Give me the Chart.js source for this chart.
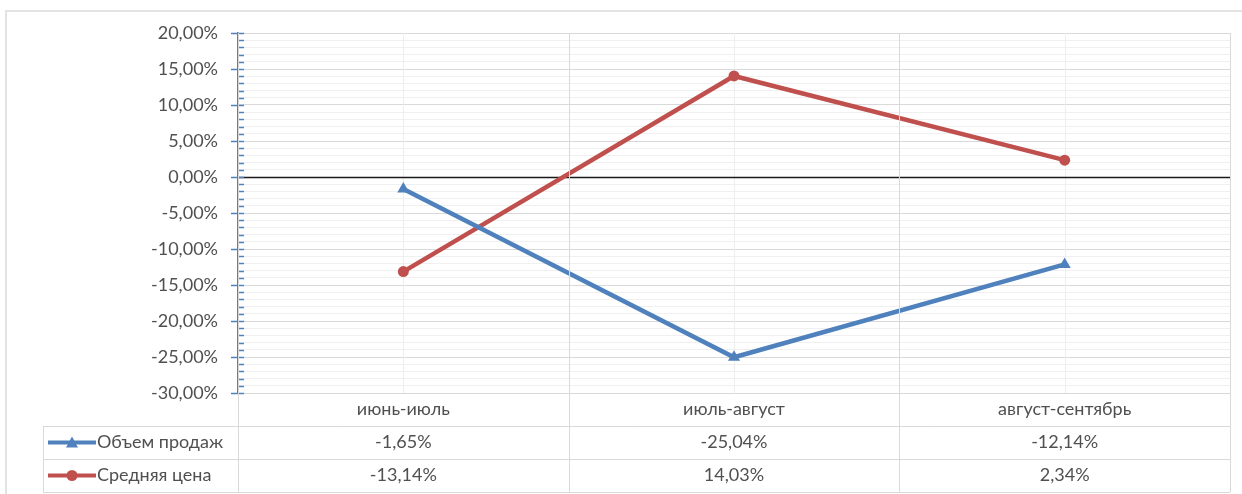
<!DOCTYPE html>
<html lang="ru">
  <head>
    <meta charset="UTF-8" />
    <title>Объем продаж и средняя цена</title>
    <script src="https://cdn.jsdelivr.net/npm/chart.js@4"></script>
    <style>
      body {
        margin: 0;
        background: #ffffff;
      }
    </style>
  </head>
  <body>
    <canvas id="chart" width="1242" height="494"></canvas>

    <script>
      // данные из таблицы под графиком
      const categories = ["июнь-июль", "июль-август", "август-сентябрь"];
      const salesVolume = [-1.65, -25.04, -12.14];
      const avgPrice = [-13.14, 14.03, 2.34];
      const seriesNames = ["Объем продаж", "Средняя цена"];

      const BLUE = "#4f81bd";
      const RED = "#c0504d";
      const TEXT = "#505050";
      const LINE = "#d9d9d9";
      const FONT = "Lato, 'Noto Sans', sans-serif";
      const FONT_SIZE = 18;

      const fmt = (v) => v.toFixed(2).replace(".", ",") + "%";

      // таблица данных и рамка, как в Excel
      const dataTable = {
        id: "dataTable",
        beforeDatasetsDraw(chart) {
          const { ctx, chartArea, scales } = chart;
          ctx.save();
          ctx.strokeStyle = "#eeeeee";
          ctx.lineWidth = 1;
          categories.forEach((c, i) => {
            const x = Math.round(scales.x.getPixelForValue(i)) + 0.5;
            ctx.beginPath();
            ctx.moveTo(x, chartArea.top);
            ctx.lineTo(x, chartArea.bottom);
            ctx.stroke();
          });
          // ноль
          const y0 = Math.round(scales.y.getPixelForValue(0)) + 0.5;
          ctx.strokeStyle = "#1a1a1a";
          ctx.lineWidth = 1.7;
          ctx.beginPath();
          ctx.moveTo(chartArea.left, y0);
          ctx.lineTo(chartArea.right, y0);
          ctx.stroke();
          ctx.restore();
        },
        afterDraw(chart) {
          const { ctx, chartArea, scales } = chart;
          const left = chartArea.left;
          const right = chartArea.right;
          const top = chartArea.bottom;
          const rowH = 33;
          const tableLeft = 43;
          const series = [
            { name: seriesNames[0], data: salesVolume, color: BLUE, marker: "triangle" },
            { name: seriesNames[1], data: avgPrice, color: RED, marker: "circle" },
          ];

          ctx.save();

          // внешняя рамка
          ctx.strokeStyle = "#e3e3e3";
          ctx.lineWidth = 2;
          ctx.beginPath();
          ctx.moveTo(6, 494);
          ctx.lineTo(6, 11);
          ctx.lineTo(1242, 11);
          ctx.stroke();

          // деления на оси Y
          ctx.strokeStyle = BLUE;
          ctx.lineWidth = 1.5;
          for (let v = -30; v <= 20; v++) {
            const y = Math.round(scales.y.getPixelForValue(v)) + 0.5;
            const major = v % 5 === 0;
            ctx.beginPath();
            ctx.moveTo(major ? left - 7 : left, y);
            ctx.lineTo(left + 6, y);
            ctx.stroke();
          }

          // линии таблицы
          ctx.strokeStyle = LINE;
          ctx.lineWidth = 1;
          const bounds = [left];
          categories.forEach((c, i) => {
            bounds.push(i < categories.length - 1
              ? (scales.x.getPixelForValue(i) + scales.x.getPixelForValue(i + 1)) / 2
              : right);
          });
          bounds.forEach((bx) => {
            const x = Math.round(bx) + 0.5;
            ctx.beginPath();
            ctx.moveTo(x, chartArea.top);
            ctx.lineTo(x, top + rowH * 3);
            ctx.stroke();
          });
          for (let r = 1; r <= 3; r++) {
            const y = Math.round(top + rowH * r) + 0.5;
            ctx.beginPath();
            ctx.moveTo(tableLeft, y);
            ctx.lineTo(right, y);
            ctx.stroke();
          }
          ctx.beginPath();
          ctx.moveTo(tableLeft + 0.5, top + rowH + 0.5);
          ctx.lineTo(tableLeft + 0.5, top + rowH * 3 + 0.5);
          ctx.stroke();

          // текст
          ctx.fillStyle = TEXT;
          ctx.font = FONT_SIZE + "px " + FONT;
          ctx.textAlign = "center";
          ctx.textBaseline = "middle";
          categories.forEach((c, i) => {
            ctx.fillText(c, scales.x.getPixelForValue(i), top + rowH / 2);
          });
          series.forEach((s, r) => {
            const yMid = top + rowH * (r + 1) + rowH / 2;
            s.data.forEach((v, i) => {
              ctx.fillStyle = TEXT;
              ctx.fillText(fmt(v), scales.x.getPixelForValue(i), yMid);
            });
            // ключ легенды
            ctx.strokeStyle = s.color;
            ctx.lineWidth = 4;
            ctx.beginPath();
            ctx.moveTo(48, yMid);
            ctx.lineTo(96, yMid);
            ctx.stroke();
            ctx.fillStyle = s.color;
            ctx.beginPath();
            if (s.marker === "triangle") {
              ctx.moveTo(72, yMid - 6);
              ctx.lineTo(78, yMid + 5);
              ctx.lineTo(66, yMid + 5);
              ctx.closePath();
            } else {
              ctx.arc(72, yMid, 5.5, 0, Math.PI * 2);
            }
            ctx.fill();
            ctx.fillStyle = TEXT;
            ctx.textAlign = "left";
            ctx.fillText(s.name, 97, yMid);
            ctx.textAlign = "center";
          });

          ctx.restore();
        },
      };

      new Chart(document.getElementById("chart"), {
        type: "line",
        data: {
          labels: categories,
          datasets: [
            {
              label: seriesNames[0],
              data: salesVolume,
              borderColor: BLUE,
              backgroundColor: BLUE,
              borderWidth: 4.5,
              pointStyle: "triangle",
              pointRadius: 7,
              pointBorderWidth: 0,
              tension: 0,
            },
            {
              label: seriesNames[1],
              data: avgPrice,
              borderColor: RED,
              backgroundColor: RED,
              borderWidth: 4.5,
              pointStyle: "circle",
              pointRadius: 5.5,
              pointBorderWidth: 0,
              tension: 0,
            },
          ],
        },
        options: {
          responsive: false,
          animation: false,
          layout: { padding: { top: 33, right: 12, bottom: 101, left: 0 } },
          plugins: {
            legend: { display: false },
            tooltip: { enabled: false },
          },
          scales: {
            x: {
              offset: true,
              grid: { display: false },
              ticks: { display: false },
              border: { display: false },
              afterFit: (scale) => {
                scale.height = 0;
              },
            },
            y: {
              min: -30,
              max: 20,
              afterFit: (scale) => {
                scale.width = 238;
              },
              afterBuildTicks: (scale) => {
                const t = [];
                for (let v = -30; v <= 20; v++) t.push({ value: v });
                scale.ticks = t;
              },
              ticks: {
                autoSkip: false,
                padding: 20,
                color: TEXT,
                font: { family: FONT, size: FONT_SIZE },
                callback: (v) => (v % 5 === 0 ? fmt(v) : ""),
              },
              grid: {
                drawTicks: false,
                color: (c) => (c.tick.value % 5 === 0 ? LINE : "#f0f0f0"),
                lineWidth: 1,
              },
              border: { color: BLUE, width: 1.5 },
            },
          },
        },
        plugins: [dataTable],
      });
    </script>
  </body>
</html>
